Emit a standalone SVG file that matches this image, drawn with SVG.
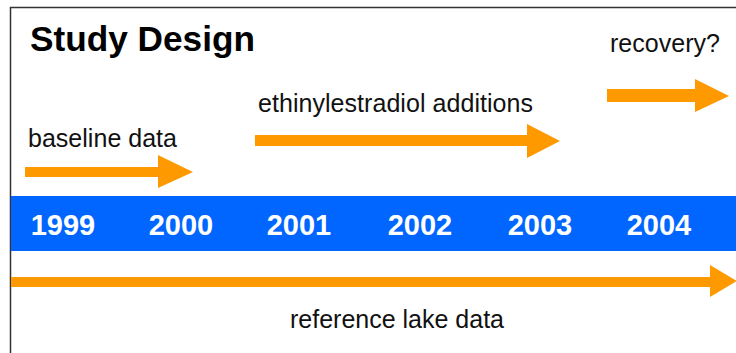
<svg xmlns="http://www.w3.org/2000/svg" width="736" height="353" viewBox="0 0 736 353">
<style>
.lbl{font-family:"Liberation Sans",Arial,sans-serif;font-size:25px;fill:#111}
.yr{font-family:"Liberation Sans",Arial,sans-serif;font-size:29px;font-weight:bold;fill:#fff;text-anchor:middle}
.arr{fill:#FF9900}
</style>
<rect x="0" y="0" width="736" height="353" fill="#fff"/>
<path d="M10.5 360 V7.5 H740" fill="none" stroke="#333" stroke-width="1.5"/>
<text x="30" y="51" font-family="'Liberation Sans',Arial,sans-serif" font-size="35" font-weight="bold" fill="#000" textLength="225" lengthAdjust="spacingAndGlyphs">Study Design</text>
<g id="band">
<rect x="11" y="196" width="725" height="55" fill="#0066FF"/>
<text class="yr" x="63" y="235">1999</text>
<text class="yr" x="181" y="235">2000</text>
<text class="yr" x="299" y="235">2001</text>
<text class="yr" x="420" y="235">2002</text>
<text class="yr" x="540" y="235">2003</text>
<text class="yr" x="659" y="235">2004</text>
</g>
<g id="baseline">
<polygon class="arr" points="25,167 158,167 158,155 193,172 158,188 158,177 25,177"/>
<text class="lbl" x="28" y="147" textLength="149">baseline data</text>
</g>
<g id="ee2">
<polygon class="arr" points="255,135 527,135 527,124 560,141 527,158 527,146 255,146"/>
<text class="lbl" x="258" y="112" textLength="275">ethinylestradiol additions</text>
</g>
<g id="recovery">
<polygon class="arr" points="607,89 695,89 695,79 729,96 695,112 695,102 607,102"/>
<text class="lbl" x="610" y="52" textLength="110">recovery?</text>
</g>
<g id="reference">
<polygon class="arr" points="11,277 710,277 710,265 737,281 710,297 710,287 11,287"/>
<text class="lbl" x="290" y="328" textLength="214">reference lake data</text>
</g>
</svg>
